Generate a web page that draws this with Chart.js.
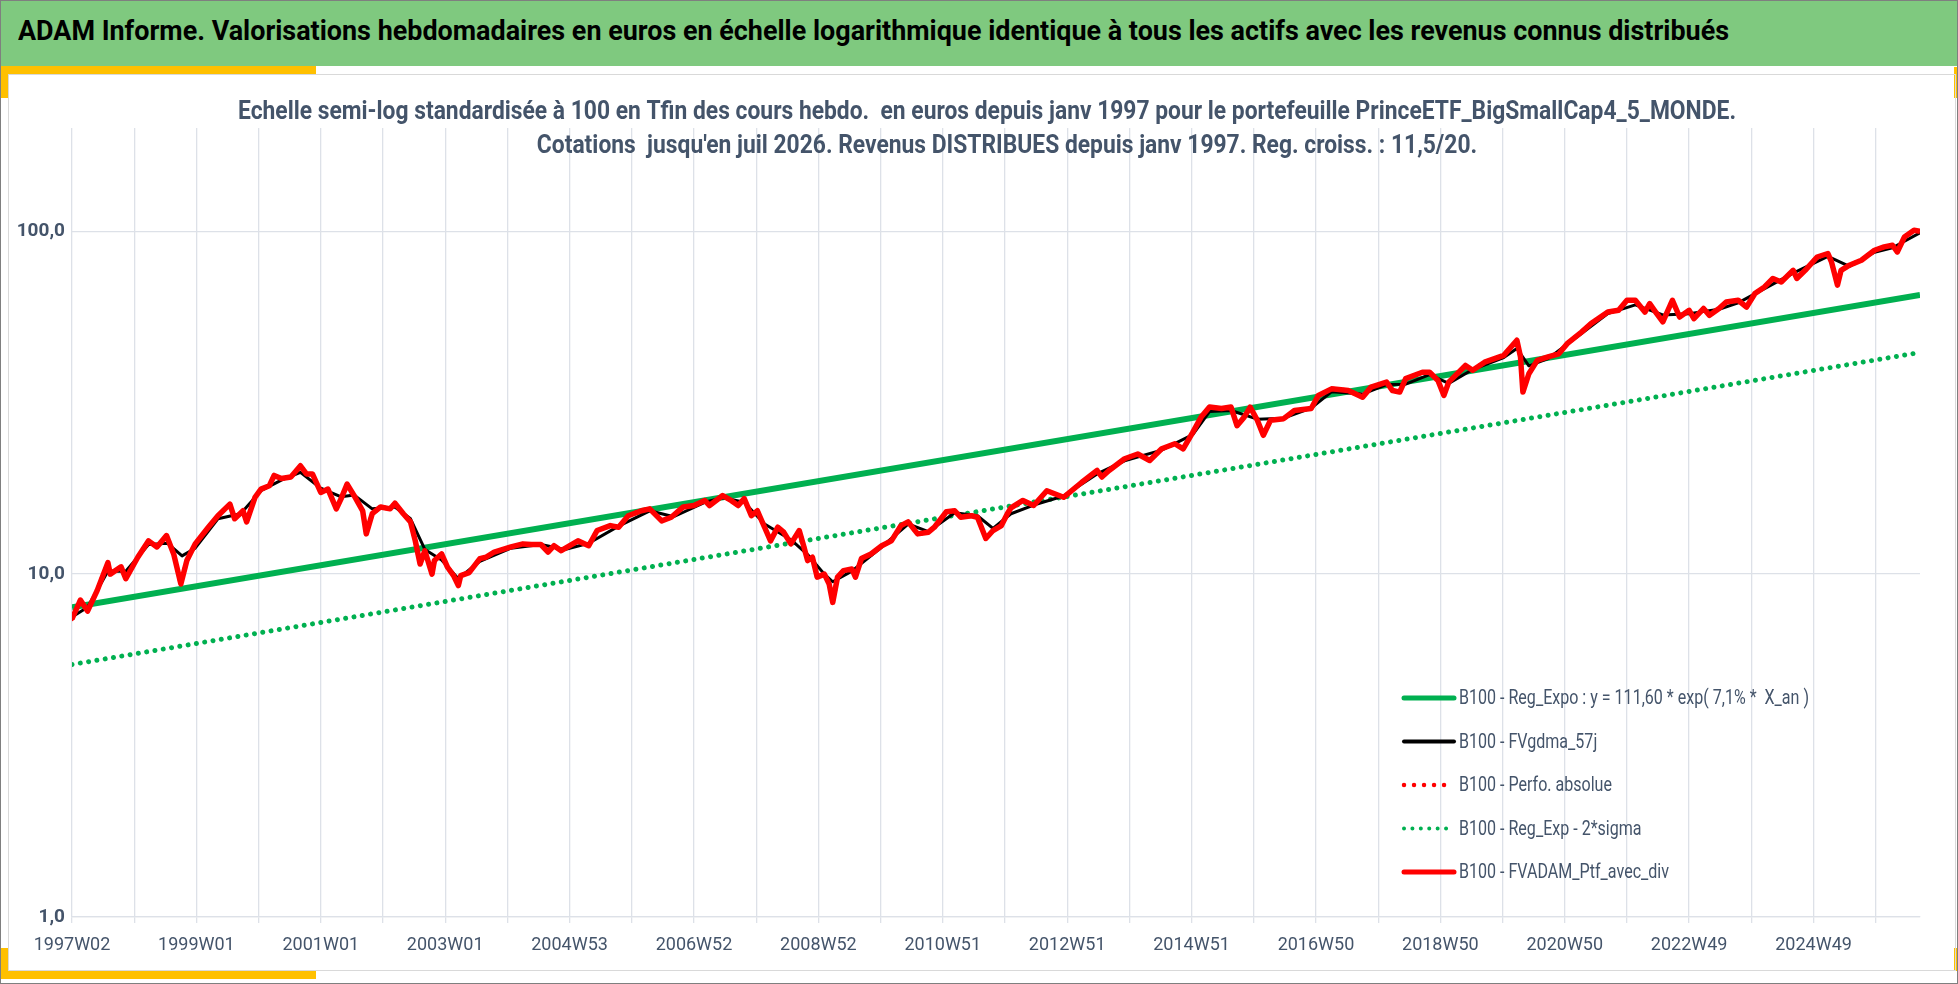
<!DOCTYPE html>
<html lang="fr">
<head>
<meta charset="utf-8">
<title>ADAM Informe</title>
<script src="https://cdn.jsdelivr.net/npm/chart.js@4.4.1/dist/chart.umd.min.js"></script>
<style>
  html, body { margin: 0; padding: 0; background: #fff; overflow: hidden; }
  #page { position: relative; width: 1958px; height: 984px; box-sizing: border-box; border: 1px solid #7f7f7f; }
  #header { position: absolute; left: 0; top: 0; width: 1956px; height: 65px; background: #7fc97f; }
  #header span { position: absolute; left: 17px; top: 14px; font: bold 27px 'Liberation Sans Narrow', Roboto, sans-serif; color: #000; white-space: nowrap; transform-origin: left center; }
  .yel { position: absolute; background: #ffc000; }
  #frame { position: absolute; left: 7px; top: 73px; width: 1948px; height: 897px; box-sizing: border-box; border: 1px solid #d9d9d9; }
  #wrap { position: absolute; left: 7px; top: 73px; width: 1946px; height: 896px; }
</style>
</head>
<body>
<div id="page">
  <div id="header"><span id="titre">ADAM Informe. Valorisations hebdomadaires en euros en échelle logarithmique identique à tous les actifs avec les revenus connus distribués</span></div>
  <div class="yel" style="left:0;top:65px;width:315px;height:8px"></div>
  <div class="yel" style="left:0;top:65px;width:7px;height:32px"></div>
  <div class="yel" style="left:0;top:970px;width:315px;height:8px"></div>
  <div class="yel" style="left:0;top:947px;width:7px;height:31px"></div>
  <div class="yel" style="left:1953px;top:66px;width:3px;height:31px"></div>
  <div class="yel" style="left:1953px;top:947px;width:3px;height:23px"></div>
  <div id="frame"></div>
  <div id="wrap"><canvas id="graphe"></canvas></div>
</div>
<script>
// textes
const sousTitre = [
  "Echelle semi-log standardisée à 100 en Tfin des cours hebdo.  en euros depuis janv 1997 pour le portefeuille PrinceETF_BigSmallCap4_5_MONDE.",
  "Cotations  jusqu'en juil 2026. Revenus DISTRIBUES depuis janv 1997. Reg. croiss. : 11,5/20."
];

// axe X : semaines depuis 1997W02, une étiquette toutes les 104 semaines
const xTickLabels = ['1997W02', '1999W01', '2001W01', '2003W01', '2004W53', '2006W52', '2008W52',
  '2010W51', '2012W51', '2014W51', '2016W50', '2018W50', '2020W50', '2022W49', '2024W49'];
const derniereSemaine = 1545;

// axe Y log
const yTickValues = [1, 10, 100];
const yTickLabels = ['1,0', '10,0', '100,0'];

// FVADAM_Ptf_avec_div
const ptfWeeks = [0, 7, 13, 21, 30, 32, 41, 45, 55, 64, 71, 79, 85, 91, 96, 103, 114, 122, 132, 136,
  143, 146, 153, 158, 165, 169, 175, 183, 191, 196, 201, 208, 214, 221, 225, 230, 236, 243, 246, 251,
  258, 266, 270, 277, 283, 287, 291, 295, 301, 303, 309, 314, 319, 323, 325, 332, 341, 346, 353, 367,
  377, 384, 392, 398, 403, 409, 423, 432, 439, 450, 457, 465, 476, 483, 493, 501, 511, 520, 529, 533,
  544, 551, 557, 562, 568, 573, 579, 584, 590, 595, 601, 608, 612, 615, 619, 623, 629, 633, 636, 640,
  645, 652, 655, 660, 668, 677, 685, 693, 699, 707, 716, 721, 731, 738, 743, 752, 757, 764, 770, 777,
  782, 785, 795, 804, 815, 829, 844, 857, 861, 867, 880, 891, 901, 911, 922, 929, 937, 944, 951, 961,
  969, 974, 980, 985, 991, 996, 1002, 1013, 1022, 1036, 1042, 1053, 1067, 1079, 1086, 1099, 1104, 1110, 1115, 1129,
  1135, 1142, 1147, 1151, 1165, 1171, 1181, 1197, 1208, 1211, 1213, 1218, 1225, 1234, 1243, 1250, 1262, 1270, 1284, 1293,
  1300, 1307, 1315, 1319, 1324, 1330, 1338, 1344, 1352, 1356, 1364, 1369, 1377, 1383, 1393, 1400, 1407, 1415, 1422, 1429,
  1439, 1442, 1449, 1459, 1468, 1471, 1476, 1479, 1486, 1496, 1507, 1515, 1522, 1526, 1532, 1540, 1545];
const ptfValues = [7.4, 8.4, 7.8, 8.95, 10.8, 10.0, 10.5, 9.7, 11.2, 12.5, 12.0, 12.95, 11.45, 9.36, 10.95, 12.25, 13.7, 14.8, 16.0, 14.5,
  15.3, 14.2, 16.75, 17.7, 18.1, 19.4, 19.0, 19.2, 20.7, 19.6, 19.6, 17.3, 17.7, 15.5, 16.6, 18.3, 16.9, 15.3, 13.1, 15.0,
  15.7, 15.5, 16.1, 15.0, 14.2, 12.5, 10.7, 11.7, 10.0, 10.95, 11.45, 10.47, 9.9, 9.26, 9.9, 10.1, 11.1, 11.2, 11.6, 12.0,
  12.25, 12.2, 12.2, 11.6, 12.1, 11.7, 12.5, 12.1, 13.4, 13.85, 13.7, 14.8, 15.3, 15.5, 14.3, 14.65, 15.7, 15.85, 16.4, 15.85,
  16.95, 16.4, 15.85, 16.6, 14.8, 15.3, 13.7, 12.5, 13.7, 13.25, 12.25, 13.4, 11.97, 10.95, 11.2, 9.8, 10.0, 9.36, 8.27, 9.8,
  10.24, 10.35, 9.8, 11.1, 11.45, 12.1, 12.5, 13.85, 14.2, 13.1, 13.25, 13.7, 15.2, 15.3, 14.65, 14.8, 14.65, 12.7, 13.4, 13.85,
  15.0, 15.6, 16.4, 15.85, 17.5, 16.75, 18.5, 20.05, 19.2, 20.05, 21.7, 22.4, 21.45, 23.2, 24.0, 23.2, 25.9, 28.7, 30.7, 30.4,
  30.7, 27.1, 28.7, 30.7, 28.1, 25.4, 28.1, 28.4, 30.0, 30.4, 33.2, 34.7, 34.3, 32.8, 35.1, 36.3, 34.3, 33.95, 37.15, 38.8,
  38.8, 36.7, 33.2, 36.3, 40.6, 39.3, 41.5, 43.45, 48.1, 43.0, 33.95, 38.4, 42.0, 43.0, 43.9, 47.0, 50.8, 53.8, 58.1, 58.8,
  62.9, 62.9, 58.1, 61.5, 58.1, 54.4, 62.9, 56.2, 58.8, 55.6, 59.5, 56.85, 59.5, 62.2, 62.9, 60.1, 65.8, 68.8, 72.8, 71.1,
  76.9, 72.8, 76.9, 84.1, 86.1, 81.4, 69.6, 76.9, 79.6, 82.3, 88.0, 90.0, 91.0, 87.0, 96.2, 100.7, 100.0];

// FVgdma_57j (moyenne lissée, lue sous la courbe rouge)
const mmWeeks = [0, 13, 30, 45, 64, 80, 92, 103, 122, 141, 158, 175, 191, 208, 225, 236, 251, 270, 283, 295,
  309, 323, 341, 367, 392, 412, 432, 457, 483, 503, 529, 544, 562, 579, 601, 615, 629, 636, 652, 677,
  699, 716, 738, 757, 770, 785, 804, 829, 857, 880, 911, 937, 951, 969, 991, 1013, 1036, 1053, 1079, 1099,
  1115, 1135, 1151, 1171, 1197, 1208, 1218, 1234, 1262, 1284, 1307, 1330, 1352, 1377, 1393, 1415, 1439, 1468, 1486, 1507,
  1522, 1545];
const mmValues = [7.5, 8.0, 10.2, 10.2, 12.2, 12.3, 11.3, 11.9, 14.5, 15.0, 17.5, 18.8, 19.8, 17.8, 16.8, 17.0, 15.5, 15.7, 14.5, 11.8,
  11.0, 9.7, 10.9, 11.9, 12.2, 11.8, 12.3, 13.8, 15.3, 14.7, 16.2, 16.7, 16.2, 14.0, 12.6, 11.4, 10.0, 9.5, 10.2, 12.0,
  14.0, 13.3, 15.1, 14.8, 13.6, 15.0, 15.9, 16.9, 19.6, 21.4, 23.0, 25.5, 29.8, 30.0, 28.3, 28.5, 30.5, 34.0, 33.5, 35.7,
  35.8, 38.2, 36.0, 39.5, 42.8, 45.5, 40.5, 42.5, 50.3, 57.5, 61.0, 57.0, 57.5, 59.2, 61.8, 68.0, 75.5, 84.5, 79.0, 86.8,
  89.5, 99.0];

// régression exponentielle et bande -2 sigma (droites en semi-log)
const regWeeks = [0, 1545];
const regValues = [8.0, 65.2];
const sigmaValues = [5.45, 44.3];

const POLICE = "'Liberation Sans Narrow', Roboto, sans-serif";
const BLEU_GRIS = '#44546A';
const GRILLE = '#dde1e8';

function points(xs, ys) {
  return xs.map((x, i) => ({ x: x, y: ys[i] }));
}

// titre du haut ajusté à la largeur
function ajuster(el, largeur) {
  const w = el.getBoundingClientRect().width;
  el.style.transform = 'scaleX(' + (largeur / w) + ')';
}

function texteEchelle(ctx, txt, x, y, echelle) {
  ctx.save();
  ctx.translate(x, y);
  ctx.scale(echelle, 1);
  ctx.fillText(txt, 0, 0);
  ctx.restore();
}

const pluginSousTitre = {
  id: 'sousTitre',
  afterDraw(chart) {
    const ctx = chart.ctx;
    ctx.save();
    ctx.fillStyle = BLEU_GRIS;
    ctx.font = 'bold 25px ' + POLICE;
    ctx.textAlign = 'center';
    ctx.textBaseline = 'middle';
    const e = 1498 / ctx.measureText(sousTitre[0]).width;
    texteEchelle(ctx, sousTitre[0], 979, 39, e);
    texteEchelle(ctx, sousTitre[1], 999, 73, e);
    ctx.restore();
  }
};

// ordre de la légende Excel
const ordreLegende = [1, 2, 3, 4, 0];

const pluginLegende = {
  id: 'legendeCoin',
  afterDraw(chart) {
    const ctx = chart.ctx;
    const x0 = 1396, x1 = 1446;
    ctx.save();
    ctx.font = '21px ' + POLICE;
    ctx.textBaseline = 'middle';
    ctx.textAlign = 'left';
    const e = 350 / ctx.measureText(chart.data.datasets[ordreLegende[0]].label).width;
    ordreLegende.forEach((i, k) => {
      const ds = chart.data.datasets[i];
      const y = 624 + k * 43.5;
      ctx.strokeStyle = ds.borderColor;
      ctx.lineWidth = ds.legendWidth;
      ctx.lineCap = 'round';
      ctx.setLineDash(ds.borderDash || []);
      ctx.beginPath();
      ctx.moveTo(x0, y);
      ctx.lineTo(x1, y);
      ctx.stroke();
      ctx.setLineDash([]);
      ctx.fillStyle = BLEU_GRIS;
      texteEchelle(ctx, ds.label, 1451, y + 1, e);
    });
    ctx.restore();
  }
};

const graphe = new Chart(document.getElementById('graphe'), {
  type: 'line',
  data: {
    datasets: [
      {
        label: 'B100 - FVADAM_Ptf_avec_div',
        data: points(ptfWeeks, ptfValues),
        borderColor: '#ff0000',
        borderWidth: 5.5,
        legendWidth: 5,
        order: 0
      },
      {
        label: 'B100 - Reg_Expo : y = 111,60 * exp( 7,1% *  X_an )',
        data: points(regWeeks, regValues),
        borderColor: '#00b050',
        borderWidth: 6,
        legendWidth: 5,
        order: 3
      },
      {
        label: 'B100 - FVgdma_57j',
        data: points(mmWeeks, mmValues),
        borderColor: '#000000',
        borderWidth: 3,
        legendWidth: 4,
        order: 1
      },
      {
        label: 'B100 - Perfo. absolue',
        data: points(ptfWeeks, ptfValues),
        borderColor: '#ff0000',
        borderWidth: 4.5,
        legendWidth: 4.5,
        borderDash: [0.01, 10],
        borderCapStyle: 'round',
        order: 2
      },
      {
        label: 'B100 - Reg_Exp - 2*sigma',
        data: points(regWeeks, sigmaValues),
        borderColor: '#00b050',
        borderWidth: 5,
        legendWidth: 4,
        borderDash: [0.01, 8.4],
        borderCapStyle: 'round',
        order: 4
      }
    ]
  },
  options: {
    responsive: true,
    maintainAspectRatio: false,
    animation: false,
    layout: { padding: { top: 54, right: 34, left: 0, bottom: 0 } },
    elements: {
      point: { radius: 0, hoverRadius: 0 },
      line: { tension: 0, borderJoinStyle: 'round' }
    },
    plugins: {
      legend: { display: false },
      title: { display: false },
      tooltip: { enabled: false }
    },
    scales: {
      x: {
        type: 'linear',
        min: 0,
        max: derniereSemaine,
        afterBuildTicks: (s) => {
          const t = [];
          for (let v = 0; v <= derniereSemaine; v += 52) t.push({ value: v });
          s.ticks = t;
        },
        afterFit: (s) => { s.height = 53; },
        grid: { color: GRILLE, lineWidth: 1.3, tickLength: 6 },
        border: { color: GRILLE, width: 1.3 },
        ticks: {
          autoSkip: false,
          maxRotation: 0,
          padding: 12,
          color: BLEU_GRIS,
          font: { family: POLICE, size: 18 },
          callback: (v) => (v % 104 === 0 ? xTickLabels[v / 104] : '')
        }
      },
      y: {
        type: 'logarithmic',
        min: 1,
        max: 200,
        afterBuildTicks: (s) => { s.ticks = yTickValues.map(v => ({ value: v })); },
        afterFit: (s) => { s.width = 64; },
        grid: { color: GRILLE, lineWidth: 1.3, drawTicks: false },
        border: { display: false },
        ticks: {
          padding: 7,
          color: BLEU_GRIS,
          font: { family: POLICE, size: 19, weight: 'bold' },
          callback: (v) => yTickLabels[yTickValues.indexOf(v)]
        }
      }
    }
  },
  plugins: [pluginSousTitre, pluginLegende]
});

document.fonts.ready.then(() => {
  ajuster(document.getElementById('titre'), 1711);
  graphe.update();
});
</script>
</body>
</html>
